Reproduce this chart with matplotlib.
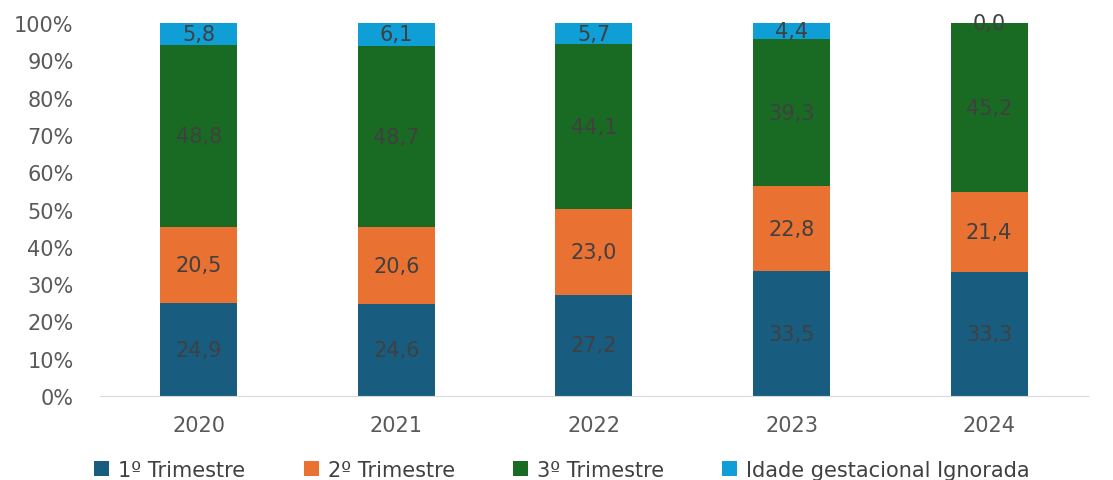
import matplotlib
matplotlib.use("Agg")
import matplotlib.pyplot as plt
import numpy as np

years = ["2020", "2021", "2022", "2023", "2024"]
series_names = ["1º Trimestre", "2º Trimestre", "3º Trimestre", "Idade gestacional Ignorada"]
t1 = [24.9, 24.6, 27.2, 33.5, 33.3]
t2 = [20.5, 20.6, 23.0, 22.8, 21.4]
t3 = [48.8, 48.7, 44.1, 39.3, 45.2]
ign = [5.8, 6.1, 5.7, 4.4, 0.0]
colors = ["#185d80", "#e97132", "#196b24", "#0f9ed5"]

plt.rcParams['font.family'] = ['DejaVu Sans']

fig = plt.figure(figsize=(11.13, 4.81), dpi=100)
ax = fig.add_axes([0.0898, 0.1746, 0.8877, 0.7754])

x = np.arange(len(years))
bottom = np.zeros(len(years))
for vals, name, c in zip([t1, t2, t3, ign], series_names, colors):
    v = np.array(vals)
    ax.bar(x, v, 0.39, bottom=bottom, color=c, label=name)
    for xi, b, val in zip(x, bottom, v):
        ax.text(xi, b + val / 2, f"{val:.1f}".replace(".", ","), ha="center", va="center",
                fontsize=15, color="#404040")
    bottom += v

ax.set_xlim(-0.5, 4.5)
ax.set_ylim(0, 100)
ax.set_yticks(np.arange(0, 101, 10))
ax.set_yticklabels([f"{v}%" for v in range(0, 101, 10)], fontsize=15, color="#595959")
ax.set_xticks(x)
ax.set_xticklabels(years, fontsize=15, color="#595959")
for s in ["top", "right", "left"]:
    ax.spines[s].set_visible(False)
ax.spines["bottom"].set_color("#d9d9d9")
ax.tick_params(axis="both", length=0)
ax.tick_params(axis="x", pad=14)
ax.tick_params(axis="y", pad=19)

fig.legend(loc="center", bbox_to_anchor=(0.505, 0.021), ncol=4, frameon=False,
           fontsize=15, handlelength=0.72, handleheight=0.72, handletextpad=0.43,
           columnspacing=2.8, labelcolor="#404040", borderpad=0.0)

fig.savefig("out.png", dpi=100)
